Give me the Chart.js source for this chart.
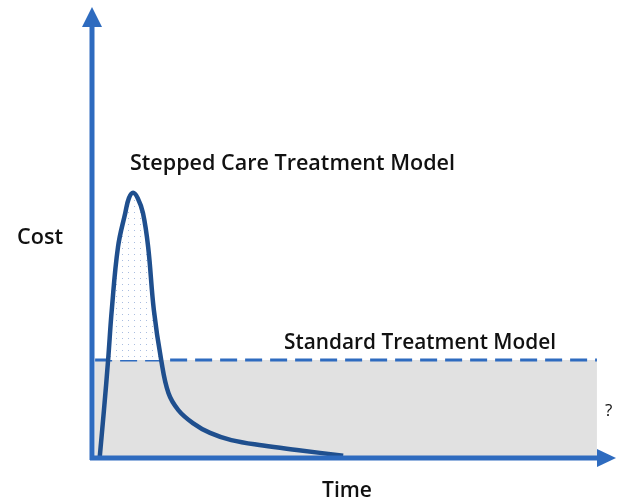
<!DOCTYPE html>
<html>
<head>
<meta charset="utf-8">
<script src="https://cdn.jsdelivr.net/npm/chart.js@4"></script>
<style>
  html, body { margin: 0; padding: 0; background: #fff; }
  #chart { display: block; }
</style>
</head>
<body>
<canvas id="chart" width="618" height="499"></canvas>
<script>
// stepped care curve (time, cost)
const stepTime = [1.5, 2.3, 3.1, 3.8, 5.0, 6.4, 7.1, 7.9, 8.8, 9.8, 10.8, 11.9, 13.3, 14.7, 16.6, 19.4, 22.7, 26.8, 32.9, 39.4, 48.3];
const stepCost = [0.4, 10.7, 21.9, 33.0, 47.1, 54.7, 58.0, 59.2, 58.0, 54.7, 47.1, 33.0, 21.9, 14.5, 10.7, 7.8, 5.6, 4.0, 2.8, 1.8, 0.5];
// standard model: flat cost over the whole period
const standardTime = [0.6, 97.1];
const standardCost = 21.9;
const labels = {
  stepped: 'Stepped Care Treatment Model',
  standard: 'Standard Treatment Model',
  yTitle: 'Cost',
  xTitle: 'Time',
  unknown: '?'
};

const axisBlue = '#2e6bbf';
const curveBlue = '#1f4f8e';

// little dot pattern for the area above the standard line
function dotPattern() {
  const c = document.createElement('canvas');
  c.width = 6; c.height = 6;
  const g = c.getContext('2d');
  g.fillStyle = '#ffffff';
  g.fillRect(0, 0, 6, 6);
  g.fillStyle = '#a9bde0';
  g.fillRect(2, 2, 1, 1);
  return g.createPattern(c, 'repeat');
}

// text squeezed/stretched to the width it has in the picture
function fitText(ctx, text, x, y, w) {
  const m = ctx.measureText(text).width;
  ctx.save();
  ctx.translate(x, y);
  ctx.scale(w / m, 1);
  ctx.fillText(text, 0, 0);
  ctx.restore();
}

const decorations = {
  id: 'decorations',
  afterDatasetsDraw(chart) {
    const { ctx, chartArea } = chart;
    const x0 = chartArea.left, y0 = chartArea.bottom;
    ctx.save();
    ctx.strokeStyle = axisBlue;
    ctx.fillStyle = axisBlue;
    ctx.lineWidth = 5;
    // y axis
    ctx.beginPath();
    ctx.moveTo(x0, y0 + 2);
    ctx.lineTo(x0, 24);
    ctx.stroke();
    ctx.beginPath();
    ctx.moveTo(x0, 7);
    ctx.lineTo(x0 - 10, 27);
    ctx.lineTo(x0 + 10, 27);
    ctx.closePath();
    ctx.fill();
    // x axis
    ctx.beginPath();
    ctx.moveTo(x0 - 2, y0);
    ctx.lineTo(600, y0);
    ctx.stroke();
    ctx.beginPath();
    ctx.moveTo(616, y0);
    ctx.lineTo(597, y0 - 9);
    ctx.lineTo(597, y0 + 9);
    ctx.closePath();
    ctx.fill();

    ctx.fillStyle = '#111';
    ctx.textBaseline = 'alphabetic';
    ctx.font = '600 22px "Open Sans"';
    fitText(ctx, labels.stepped, 130, 170, 325);
    fitText(ctx, labels.standard, 284, 349, 272);
    fitText(ctx, labels.yTitle, 17, 244, 46);
    fitText(ctx, labels.xTitle, 322, 497, 50);
    ctx.font = '17px "Open Sans"';
    ctx.fillText(labels.unknown, 605, 416);
    ctx.restore();
  }
};

new Chart(document.getElementById('chart'), {
  type: 'line',
  data: {
    datasets: [
      {
        // grey block under the standard model line
        data: standardTime.map(t => ({ x: t, y: standardCost })),
        borderColor: axisBlue,
        borderWidth: 3,
        borderDash: [17, 8],
        backgroundColor: '#e1e1e1',
        fill: 'origin',
        pointRadius: 0,
        order: 2
      },
      {
        data: stepTime.map((t, i) => ({ x: t, y: stepCost[i] })),
        borderColor: curveBlue,
        borderWidth: 4.5,
        tension: 0.4,
        fill: { value: standardCost, above: dotPattern(), below: 'rgba(0,0,0,0)' },
        pointRadius: 0,
        order: 1
      }
    ]
  },
  options: {
    responsive: false,
    animation: false,
    layout: { padding: { left: 92, right: 6, top: 10, bottom: 41 } },
    plugins: { legend: { display: false }, tooltip: { enabled: false } },
    scales: {
      x: { type: 'linear', min: 0, max: 100, display: false },
      y: { min: 0, max: 100, display: false }
    }
  },
  plugins: [decorations]
});
</script>
</body>
</html>
